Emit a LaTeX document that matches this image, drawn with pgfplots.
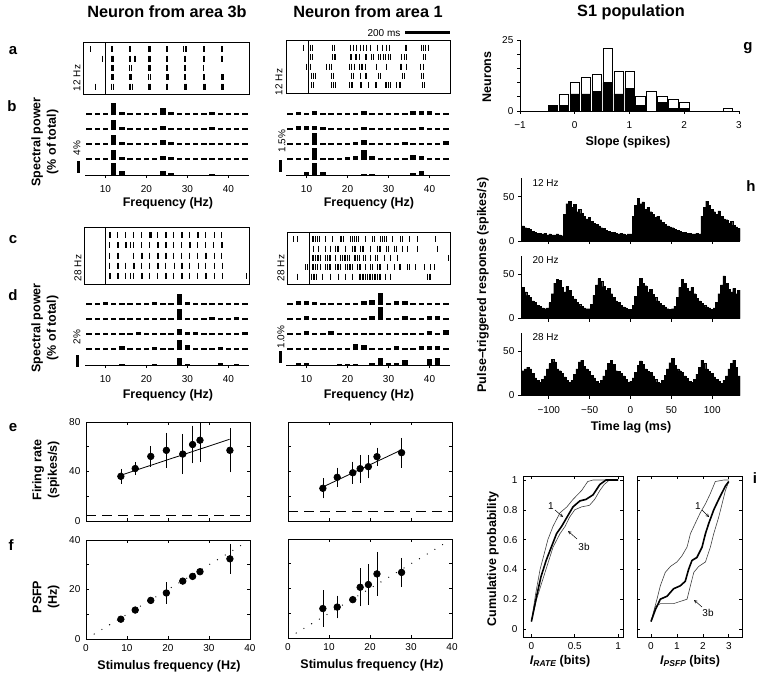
\documentclass[border=0pt]{standalone}
\usepackage{fontspec}
\setmainfont{Liberation Sans}
\usepackage{pgfplots}
\usepackage{pgfplotstable}
\pgfplotsset{compat=1.18}

\newcommand\tk{\fontsize{10}{11}\selectfont}
\newcommand\lb{\fontsize{12.5}{15.5}\selectfont\bfseries}
\newcommand\ttl{\fontsize{16.3}{18}\selectfont\bfseries}
\newcommand\pl{\fontsize{15}{16}\selectfont\bfseries}

% spectra: f = frequency bin (Hz), r1..r5 = power of trial rows (top to bottom)
\pgfplotstableread{
f r1 r2 r3 r4 r5
6 .6 .6 .6 .6 0
8 .6 .6 .6 .6 0
10 .7 .6 .6 .8 0
12 4 3.3 3.4 3.5 4
14 1.1 .9 .9 .9 1.2
16 .6 .6 .6 .6 0
18 .6 .6 .6 .6 0
20 .6 .6 .6 .6 0
22 .6 .6 .6 .6 0
24 2.2 1.4 1.7 1.2 1.5
26 1 .8 1 .9 .8
28 .6 .6 .6 .6 0
30 .6 .6 .6 .6 0
32 .6 .6 .6 .6 0
34 .6 .6 .6 .6 0
36 .9 .9 .8 .7 .3
38 .8 .6 .7 .6 0
40 .6 .6 .6 .6 0
42 .6 .6 .6 .6 0
44 .6 .6 .6 .6 0
}\specA
\pgfplotstableread{
f r1 r2 r3 r4 r5
6 .25 .25 .25 .3 0
8 .4 .5 .25 .25 0
10 .25 .45 .25 .25 .4
12 .5 .45 1.55 1.5 1.45
14 .25 .4 .25 .25 .35
16 .25 .25 .25 .25 0
18 .25 .25 .25 .25 0
20 .25 .25 .25 .35 0
22 .25 .25 .4 .5 0
24 .45 .35 .6 1.3 .1
26 .25 .25 .25 .45 .1
28 .25 .25 .25 .25 0
30 .25 .25 .25 .25 0
32 .25 .25 .25 .25 0
34 .25 .25 .35 .25 0
36 .5 .25 .25 .65 .3
38 .55 .4 .25 .55 .5
40 .45 .25 .25 .25 0
42 .25 .25 .25 .25 0
44 .25 .25 .5 .25 0
}\specB
\pgfplotstableread{
f r1 r2 r3 r4 r5
6 .3 .3 .3 .3 0
8 .3 .3 .3 .3 0
10 .45 .3 .3 .3 0
12 .3 .3 .3 .3 0
14 .3 .4 .3 .6 .1
16 .3 .3 .3 .3 0
18 .3 .3 .55 .3 0
20 .4 .3 .3 .3 0
22 .45 .3 .3 .45 .15
24 .3 .3 .3 .3 0
26 .3 .3 .3 .3 0
28 1.9 1.9 1 1.6 1.2
30 .5 .4 .5 .9 .2
32 .3 .3 .45 .3 0
34 .3 .3 .3 .3 0
36 .3 .5 .3 .3 0
38 .3 .3 .3 .45 .3
40 .3 .3 .3 .3 0
42 .3 .45 .3 .3 .2
44 .3 .3 .45 .3 0
}\specC
\pgfplotstableread{
f r1 r2 r3 r4 r5
6 .15 .15 .15 .15 0
8 .3 .15 .15 .15 .15
10 .3 .3 .3 .15 .15
12 .25 .15 .15 .15 0
14 .15 .15 .15 .15 0
16 .15 .15 .3 .15 0
18 .15 .15 .15 .15 .05
20 .15 .15 .15 .15 .05
22 .15 .15 .15 .5 .05
24 .3 .15 .15 .45 0
26 .4 .3 .15 .15 .2
28 1 1.05 .15 .15 .6
30 .2 .2 .15 .15 .2
32 .3 .15 .15 .3 .2
34 .3 .3 .15 .15 .4
36 .15 .15 .15 .15 0
38 .15 .15 .15 .3 0
40 .15 .3 .3 .3 .5
42 .15 .35 .15 .3 .55
44 .15 .15 .45 .15 0
}\specD

% pulse-triggered responses
\pgfplotstableread{
t h12 h20 h28
-133 17 35 28
-130 15 30 30
-127 14 26 32
-124 13 24 30
-121 11 20 25
-118 10 18 20
-115 9 15 17
-112 9 14 15
-109 8 12 18
-106 9 11 22
-103 7 12 30
-100 8 18 36
-97 7 28 41
-94 7 40 38
-91 8 44 30
-88 7 43 28
-85 6 35 25
-82 30 30 21
-79 42 36 17
-76 45 32 15
-73 38 25 17
-70 41 22 24
-67 33 18 30
-64 36 16 38
-61 31 14 40
-58 28 12 33
-55 25 11 30
-52 27 11 27
-49 22 16 23
-46 20 26 20
-43 19 38 16
-40 17 45 14
-37 15 42 17
-34 14 36 22
-31 12 32 29
-28 11 34 36
-25 10 28 40
-22 10 24 35
-19 9 20 28
-16 8 18 27
-13 9 15 25
-10 8 13 22
-7 7 12 18
-4 8 10 15
-1 8 10 16
2 28 15 20
5 40 25 26
8 48 36 34
11 42 45 39
14 44 40 35
17 36 37 30
20 38 30 27
23 33 33 26
26 30 27 22
29 27 24 18
32 28 20 15
35 24 17 14
38 21 15 17
41 19 13 23
44 17 11 30
47 16 10 37
50 15 11 42
53 13 14 34
56 12 24 30
59 11 35 28
62 10 44 26
65 10 40 22
68 9 34 19
71 9 31 16
74 8 35 15
77 8 28 18
80 9 23 24
83 8 20 32
86 28 17 40
89 38 15 36
92 45 13 30
95 40 12 27
98 36 10 25
101 33 12 21
104 30 18 18
107 34 28 16
110 28 38 14
113 25 48 17
116 24 40 22
119 20 33 30
122 22 30 36
125 18 34 40
128 16 28 32
131 14 32 22
134 12 22 18
}\psth

\pgfplotsset{
 base/.style={scale only axis, anchor=north west, line width=0.7pt,
   tick style={line width=0.6pt, black}, ticklabel style={font=\tk},
   /pgf/number format/assume math mode=true, axis line style={-}},
 raster/.style={base, xtick=\empty, ytick=\empty, ymin=0.2, ymax=5.8},
 spec/.style={base, width=164pt, height=75pt, xmin=5, xmax=45, ymin=0,
   hide y axis, axis x line*=bottom, xtick={10,20,30,40}, tick align=outside,
   major tick length=3pt, xticklabel style={yshift=-4pt}},
 spk/.style={only marks, mark=|, mark size=3pt, mark options={line width=0.6pt}, black},
 box/.style={base, width=164pt, height=99pt, xmin=0, xmax=40,
   xtick={0,10,20,30,40}, major tick length=3pt,
   yticklabel style={xshift=-2pt}, xticklabel style={yshift=-2pt}},
 hpl/.style={base, width=219pt, height=63pt, xmin=-134, xmax=134, ymin=0, ymax=71,
   axis x line*=bottom, axis y line*=left, xtick={-100,-50,0,50,100}, ytick={0,50},
   tick align=outside, major tick length=3pt, xticklabel style={yshift=-4pt}},
 pts/.style={only marks, mark=*, mark size=3.3pt, black},
 ipl/.style={base, height=161pt, ymin=-0.054, ymax=1.027, ytick={0,0.2,0.4,0.6,0.8,1},
   major tick length=3pt, xticklabel style={yshift=-2pt}},
}
% one row of a spectrum: table, baseline, column
\newcommand\srow[3]{\addplot[draw=none, mark=none, forget plot,
   error bars/.cd, y dir=plus, y explicit, error mark=none,
   error bar style={draw=black, line width=5.5pt}]
   table[x=f, y expr=#2, y error=#3] {#1};}

\begin{document}
\begin{tikzpicture}
\path[use as bounding box] (0,0) rectangle (765pt,-682pt);

% ---------- titles and panel letters ----------
\node[font=\ttl] at (167pt,-12pt) {Neuron from area 3b};
\node[font=\ttl] at (368pt,-12pt) {Neuron from area 1};
\node[font=\ttl] at (631pt,-12pt) {S1 population};
\node[font=\pl] at (13pt,-51pt) {a};
\node[font=\pl] at (12pt,-106pt) {b};
\node[font=\pl] at (13pt,-240pt) {c};
\node[font=\pl] at (13pt,-295pt) {d};
\node[font=\pl] at (13pt,-428pt) {e};
\node[font=\pl] at (11pt,-545pt) {f};
\node[font=\pl] at (748pt,-48pt) {g};
\node[font=\pl] at (751pt,-186pt) {h};
\node[font=\pl] at (755pt,-478pt) {i};

% ---------- a: rasters 12 Hz ----------
\begin{axis}[raster, at={(83pt,-42pt)}, width=166pt, height=52pt, xmin=-98, xmax=640]
\addplot[black, line width=0.7pt] coordinates {(0,0.2) (0,5.8)};
\addplot[spk] table[row sep=\\, y expr=5] {t\\-67\\28\\33\\109\\114\\193\\198\\203\\272\\278\\350\\355\\360\\435\\440\\516\\522\\};
\addplot[spk] table[row sep=\\, y expr=4] {t\\-10\\29\\34\\38\\108\\113\\128\\135\\192\\196\\201\\273\\278\\351\\356\\435\\441\\517\\522\\};
\addplot[spk] table[row sep=\\, y expr=3] {t\\28\\32\\36\\110\\115\\194\\198\\202\\273\\277\\352\\357\\438\\};
\addplot[spk] table[row sep=\\, y expr=2] {t\\29\\33\\37\\109\\113\\118\\194\\199\\272\\276\\281\\352\\357\\436\\441\\518\\523\\527\\};
\addplot[spk] table[row sep=\\, y expr=1] {t\\-44\\30\\35\\110\\114\\119\\194\\198\\202\\273\\277\\351\\356\\360\\435\\440\\444\\517\\521\\526\\};
\end{axis}

\begin{axis}[raster, at={(286pt,-40pt)}, width=164pt, height=53pt, xmin=-98, xmax=631]
\addplot[black, line width=0.7pt] coordinates {(0,0.2) (0,5.8)};
\addplot[spk] table[row sep=\\, y expr=5] {t\\-21\\12\\19\\110\\117\\187\\201\\216\\231\\246\\261\\275\\309\\332\\349\\360\\431\\438\\505\\512\\523\\535\\};
\addplot[spk] table[row sep=\\, y expr=4] {t\\12\\21\\110\\115\\121\\187\\194\\209\\216\\228\\253\\261\\280\\290\\312\\323\\335\\345\\357\\364\\416\\426\\435\\512\\520\\};
\addplot[spk] table[row sep=\\, y expr=3] {t\\-9\\1\\12\\83\\93\\105\\184\\192\\204\\227\\235\\243\\253\\305\\349\\409\\416\\438\\498\\512\\};
\addplot[spk] table[row sep=\\, y expr=2] {t\\16\\24\\31\\105\\113\\194\\201\\231\\253\\261\\312\\320\\421\\428\\505\\512\\};
\addplot[spk] table[row sep=\\, y expr=1] {t\\16\\24\\105\\113\\120\\184\\191\\198\\231\\238\\268\\298\\305\\342\\349\\357\\364\\394\\404\\412\\508\\515\\};
\end{axis}
\node[font=\tk, rotate=90] at (77pt,-78pt) {12 Hz};
\node[font=\tk, rotate=90] at (279pt,-82pt) {12 Hz};
\node[font=\tk] at (384pt,-33pt) {200 ms};
\draw[line width=3pt] (405pt,-33pt) -- (450pt,-33pt);

% ---------- b: spectra 12 Hz ----------
\begin{axis}[spec, at={(85pt,-100pt)}, ymax=25]
\srow{\specA}{20}{r1}
\srow{\specA}{15}{r2}
\srow{\specA}{10}{r3}
\srow{\specA}{5}{r4}
\srow{\specA}{0}{r5}
\end{axis}
\begin{axis}[spec, at={(286pt,-100pt)}, ymax=9.375]
\srow{\specB}{7.5}{r1}
\srow{\specB}{5.625}{r2}
\srow{\specB}{3.75}{r3}
\srow{\specB}{1.875}{r4}
\srow{\specB}{0}{r5}
\end{axis}
\node[font=\tk, rotate=90] at (77pt,-148pt) {4\%};
\draw[line width=3pt] (78pt,-161pt) -- (78pt,-173pt);
\node[font=\tk, rotate=90] at (282pt,-141pt) {1.5\%};
\draw[line width=3pt] (280pt,-160pt) -- (280pt,-172pt);
\node[font=\lb, rotate=90, align=center] at (45pt,-142pt) {Spectral power\\(\% of total)};
\node[font=\lb] at (168pt,-203pt) {Frequency (Hz)};
\node[font=\lb] at (369pt,-203pt) {Frequency (Hz)};

% ---------- c: rasters 28 Hz ----------
\begin{axis}[raster, at={(84pt,-227pt)}, width=165pt, height=57pt, xmin=-95, xmax=638]
\addplot[black, line width=0.7pt] coordinates {(0,0.2) (0,5.8)};
\addplot[spk] table[row sep=\\, y expr=5] {t\\17\\20\\54\\88\\124\\160\\195\\199\\203\\232\\267\\270\\302\\338\\341\\375\\410\\413\\446\\482\\517\\};
\addplot[spk] table[row sep=\\, y expr=4] {t\\16\\19\\53\\56\\88\\91\\110\\125\\160\\196\\232\\236\\268\\271\\303\\339\\374\\378\\410\\446\\481\\517\\521\\};
\addplot[spk] table[row sep=\\, y expr=3] {t\\18\\54\\57\\125\\160\\164\\196\\232\\235\\268\\271\\303\\339\\374\\410\\446\\449\\482\\517\\};
\addplot[spk] table[row sep=\\, y expr=2] {t\\16\\19\\53\\56\\89\\124\\127\\160\\196\\232\\235\\268\\304\\307\\339\\342\\375\\411\\446\\482\\518\\};
\addplot[spk] table[row sep=\\, y expr=1] {t\\17\\20\\53\\56\\89\\110\\124\\160\\163\\196\\232\\268\\271\\303\\339\\342\\375\\410\\446\\449\\482\\518\\627\\};
\end{axis}
\begin{axis}[raster, at={(287pt,-232pt)}, width=163pt, height=52pt, xmin=-100, xmax=624]
\addplot[black, line width=0.7pt] coordinates {(0,0.2) (0,5.8)};
\addplot[spk] table[row sep=\\, y expr=5] {t\\-70\\-55\\12\\19\\27\\34\\43\\71\\101\\135\\142\\150\\182\\190\\197\\206\\215\\249\\278\\289\\315\\324\\333\\342\\367\\401\\412\\441\\478\\560\\};
\addplot[spk] table[row sep=\\, y expr=4] {t\\19\\41\\71\\93\\115\\123\\130\\160\\190\\197\\204\\227\\234\\241\\271\\301\\308\\315\\342\\350\\375\\384\\412\\434\\478\\567\\};
\addplot[spk] table[row sep=\\, y expr=3] {t\\12\\19\\27\\34\\41\\49\\71\\78\\86\\93\\115\\138\\145\\153\\160\\167\\175\\197\\204\\212\\219\\241\\249\\271\\293\\301\\330\\360\\389\\618\\};
\addplot[spk] table[row sep=\\, y expr=2] {t\\-18\\-10\\12\\19\\27\\34\\49\\71\\78\\86\\93\\115\\123\\130\\138\\160\\167\\175\\182\\190\\212\\219\\227\\249\\271\\278\\301\\308\\315\\345\\375\\397\\404\\434\\441\\471\\508\\538\\552\\};
\addplot[spk] table[row sep=\\, y expr=1] {t\\-55\\9\\15\\21\\28\\56\\93\\126\\160\\190\\219\\227\\234\\241\\249\\256\\264\\271\\278\\286\\293\\301\\308\\315\\338\\360\\523\\530\\538\\};
\end{axis}
\node[font=\tk, rotate=90] at (78pt,-268pt) {28 Hz};
\node[font=\tk, rotate=90] at (281pt,-268pt) {28 Hz};

% ---------- d: spectra 28 Hz ----------
\begin{axis}[spec, at={(85pt,-290pt)}, ymax=12.5]
\srow{\specC}{10}{r1}
\srow{\specC}{7.5}{r2}
\srow{\specC}{5}{r3}
\srow{\specC}{2.5}{r4}
\srow{\specC}{0}{r5}
\end{axis}
\begin{axis}[spec, at={(286pt,-290pt)}, ymax=6.25]
\srow{\specD}{5}{r1}
\srow{\specD}{3.75}{r2}
\srow{\specD}{2.5}{r3}
\srow{\specD}{1.25}{r4}
\srow{\specD}{0}{r5}
\end{axis}
\node[font=\tk, rotate=90] at (77pt,-337pt) {2\%};
\draw[line width=3pt] (77pt,-355pt) -- (77pt,-367pt);
\node[font=\tk, rotate=90] at (281pt,-337pt) {1.0\%};
\draw[line width=3pt] (280pt,-351pt) -- (280pt,-363pt);
\node[font=\lb, rotate=90, align=center] at (45pt,-328pt) {Spectral power\\(\% of total)};
\node[font=\lb] at (168pt,-395pt) {Frequency (Hz)};
\node[font=\lb] at (369pt,-395pt) {Frequency (Hz)};

% ---------- e: firing rate ----------
\begin{axis}[box, at={(86pt,-422pt)}, ymin=0, ymax=80, ytick={0,20,40,60,80}, yticklabels={0,,40,,80}, xticklabels={}]
\addplot[black, dash pattern=on 10pt off 6pt, line width=0.7pt] coordinates {(0,4.3) (40,4.3)};
\addplot[black, line width=0.8pt] coordinates {(8.5,37) (35,66)};
\addplot[pts, error bars/.cd, y dir=both, y explicit, error mark options={mark size=1.5pt, line width=0.7pt}, error bar style={line width=0.7pt}]
 coordinates {(8.5,36.1) +- (0,4.8) (12,42.4) +- (0,4.1) (15.8,52.2) +- (0,7) (19.6,57.1) +- (0,13) (23.6,54.1) +- (0,15) (26,61.8) +- (0,14) (27.8,65.3) +- (0,16.5) (35.1,57.1) +- (0,16.6)};
\end{axis}
\begin{axis}[box, at={(288pt,-422pt)}, ymin=0, ymax=80, ytick={0,20,40,60,80}, yticklabels={}, xticklabels={}]
\addplot[black, dash pattern=on 10pt off 6pt, line width=0.7pt] coordinates {(0,7.5) (40,7.5)};
\addplot[black, line width=0.8pt] coordinates {(8.5,27.5) (27.7,57.5)};
\addplot[pts, error bars/.cd, y dir=both, y explicit, error mark options={mark size=1.5pt, line width=0.7pt}, error bar style={line width=0.7pt}]
 coordinates {(8.5,26.4) +- (0,7) (12,35.3) +- (0,6.7) (15.8,39) +- (0,7.8) (17.6,42.3) +- (0,10) (19.6,43.9) +- (0,8.3) (21.7,52) +- (0,6) (27.7,55.2) +- (0,10.8)};
\end{axis}
\node[font=\lb, align=center, rotate=90] at (46pt,-470pt) {Firing rate\\(spikes/s)};

% ---------- f: PSFP ----------
\begin{axis}[box, at={(86pt,-540pt)}, ymin=0, ymax=40, ytick={0,10,20,30,40}, yticklabels={0,,20,,40}]
\addplot[black, line width=1.3pt, line cap=round, dash pattern=on 0pt off 9pt] coordinates {(2,2) (39,39)};
\addplot[pts, error bars/.cd, y dir=both, y explicit, error mark options={mark size=1.5pt, line width=0.7pt}, error bar style={line width=0.7pt}]
 coordinates {(8.5,8.0) +- (0,0) (12,11.7) +- (0,0) (15.8,15.6) +- (0,0) (19.6,18.6) +- (0,3.7) (23.6,23.4) +- (0,0) (26,25.3) +- (0,0) (27.8,27.2) +- (0,0) (35.1,32.4) +- (0,5.4)};
\end{axis}
\begin{axis}[box, at={(288pt,-539pt)}, ymin=0, ymax=40, ytick={0,10,20,30,40}, yticklabels={}]
\addplot[black, line width=1.3pt, line cap=round, dash pattern=on 0pt off 9pt] coordinates {(2,2) (39,39)};
\addplot[pts, error bars/.cd, y dir=both, y explicit, error mark options={mark size=1.5pt, line width=0.7pt}, error bar style={line width=0.7pt}]
 coordinates {(8.5,11.9) +- (0,6.7) (12,12.5) +- (0,4) (15.8,15.5) +- (0,0) (17.6,20.5) +- (0,7.1) (19.6,21.6) +- (0,7.5) (21.7,25.9) +- (0,8.3) (27.7,26.5) +- (0,5.3)};
\end{axis}
\node[font=\lb, align=center, rotate=90] at (46pt,-597pt) {PSFP\\(Hz)};
\node[font=\lb] at (169pt,-666pt) {Stimulus frequency (Hz)};
\node[font=\lb] at (372pt,-665pt) {Stimulus frequency (Hz)};

% ---------- g: slope histogram ----------
\begin{axis}[base, at={(520pt,-40pt)}, width=219pt, height=71pt, xmin=-1, xmax=3, ymin=0, ymax=25,
  axis x line*=bottom, axis y line*=left, xtick={-1,0,1,2,3}, xticklabels={−1,0,1,2,3},
  ytick={0,5,10,15,20,25}, yticklabels={0,,,,,25}, tick align=outside, major tick length=3pt,
  xticklabel style={yshift=-4pt}]
\addplot[ybar, bar width=0.17, bar shift=0pt, fill=white, draw=black, line width=0.7pt]
 coordinates {(-0.4,2) (-0.2,6) (0,10) (0.2,12) (0.4,13) (0.6,22) (0.8,14) (1.0,14) (1.2,5) (1.4,7) (1.6,5) (1.8,4) (2.0,3) (2.8,1)};
\addplot[ybar, bar width=0.17, bar shift=0pt, fill=black, draw=black, line width=0.7pt]
 coordinates {(-0.4,2) (-0.2,2) (0,6) (0.2,6) (0.4,7) (0.6,10) (0.8,6) (1.0,8) (1.2,2) (1.6,3) (1.8,1) (2.0,1)};
\end{axis}
\node[font=\lb, rotate=90] at (487pt,-77pt) {Neurons};
\node[font=\lb] at (628pt,-142pt) {Slope (spikes)};

% ---------- h: pulse-triggered responses ----------
\begin{axis}[hpl, at={(521pt,-178pt)}, xticklabels={}]
\addplot[const plot, fill=black, draw=black, line width=0.3pt] table[x=t, y=h12] {\psth} \closedcycle;
\end{axis}
\begin{axis}[hpl, at={(521pt,-255.5pt)}, xticklabels={}]
\addplot[const plot, fill=black, draw=black, line width=0.3pt] table[x=t, y=h20] {\psth} \closedcycle;
\end{axis}
\begin{axis}[hpl, at={(521pt,-332.5pt)}, xticklabels={−100,−50,0,50,100}]
\addplot[const plot, fill=black, draw=black, line width=0.3pt] table[x=t, y=h28] {\psth} \closedcycle;
\end{axis}
\node[font=\tk, anchor=west] at (529pt,-183pt) {12 Hz};
\node[font=\tk, anchor=west] at (529pt,-260pt) {20 Hz};
\node[font=\tk, anchor=west] at (529pt,-337pt) {28 Hz};
\node[font=\lb, rotate=90] at (483pt,-285pt) {Pulse–triggered response (spikes/s)};
\node[font=\lb] at (631pt,-427pt) {Time lag (ms)};

% ---------- i: cumulative information ----------
\begin{axis}[ipl, at={(523pt,-476pt)}, width=100pt, xmin=-0.097, xmax=1.057,
  xtick={0,0.5,1}, xticklabels={0,0.5,1}, yticklabels={0,0.2,0.4,0.6,0.8,1}, yticklabel style={xshift=-2pt}]
\addplot[black!75, line width=0.6pt] coordinates {(0,0.05) (0.05,0.24) (0.1,0.4) (0.15,0.51) (0.19,0.6) (0.25,0.69) (0.33,0.78) (0.41,0.82) (0.48,0.87) (0.58,0.93) (0.65,0.99) (0.71,1) (1,1)};
\addplot[black!75, line width=0.6pt] coordinates {(0,0.05) (0.06,0.2) (0.13,0.33) (0.19,0.44) (0.25,0.55) (0.33,0.64) (0.39,0.69) (0.44,0.75) (0.5,0.8) (0.58,0.82) (0.67,0.83) (0.73,0.87) (0.79,0.93) (0.84,0.97) (0.9,1) (1,1)};
\addplot[black, line width=1.6pt] coordinates {(0,0.05) (0.06,0.22) (0.11,0.35) (0.17,0.46) (0.23,0.55) (0.29,0.64) (0.35,0.69) (0.41,0.75) (0.48,0.82) (0.56,0.86) (0.63,0.87) (0.71,0.9) (0.79,0.97) (0.86,1) (1,1)};
\end{axis}
\begin{axis}[ipl, at={(637pt,-476pt)}, width=105pt, xmin=-0.54, xmax=3.51,
  xtick={0,1,2,3}, xticklabels={0,1,2,3}, yticklabels={}]
\addplot[black!75, line width=0.6pt] coordinates {(0,0.05) (0.23,0.2) (0.36,0.29) (0.55,0.38) (0.75,0.42) (1,0.45) (1.19,0.49) (1.39,0.55) (1.52,0.64) (1.71,0.71) (1.9,0.78) (2.1,0.84) (2.29,0.91) (2.48,0.99) (2.81,1) (3,1)};
\addplot[black!75, line width=0.6pt] coordinates {(0,0.05) (0.17,0.15) (0.36,0.17) (0.87,0.17) (1.39,0.2) (1.52,0.29) (1.65,0.38) (1.84,0.42) (2.1,0.45) (2.29,0.55) (2.42,0.64) (2.61,0.75) (2.74,0.84) (2.87,0.93) (3,0.99)};
\addplot[black, line width=1.6pt] coordinates {(0,0.05) (0.17,0.13) (0.36,0.2) (0.62,0.22) (0.87,0.27) (1.13,0.29) (1.32,0.32) (1.45,0.4) (1.58,0.46) (1.77,0.48) (1.97,0.55) (2.1,0.64) (2.23,0.71) (2.42,0.8) (2.61,0.87) (2.87,0.96) (3,0.99)};
\end{axis}
\node[font=\lb, rotate=90] at (493pt,-559pt) {Cumulative probability};
\node[font=\lb] at (560pt,-661pt) {\textit{I}\raisebox{-2.5pt}{\fontsize{8.5}{9}\selectfont\textit{RATE}} (bits)};
\node[font=\lb] at (690pt,-661pt) {\textit{I}\raisebox{-2.5pt}{\fontsize{8.5}{9}\selectfont\textit{PSFP}} (bits)};
\node[font=\tk] at (551pt,-506pt) {1};
\draw[->, >=stealth, line width=0.5pt] (555pt,-510pt) -- (563pt,-517pt);
\node[font=\tk] at (584pt,-547pt) {3b};
\draw[->, >=stealth, line width=0.5pt] (577pt,-539pt) -- (568pt,-531pt);
\node[font=\tk] at (698pt,-506pt) {1};
\draw[->, >=stealth, line width=0.5pt] (702pt,-510pt) -- (709pt,-517pt);
\node[font=\tk] at (708pt,-613pt) {3b};
\draw[->, >=stealth, line width=0.5pt] (702pt,-607pt) -- (694pt,-600pt);
\end{tikzpicture}
\end{document}
